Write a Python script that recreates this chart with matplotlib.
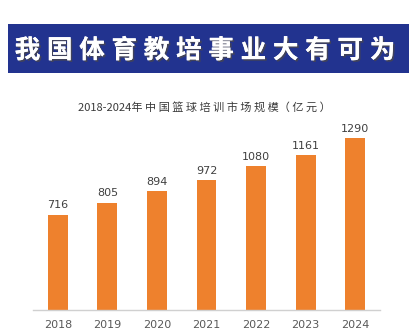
import matplotlib
matplotlib.use('Agg')
import matplotlib.pyplot as plt
import matplotlib.patheffects as pe
from matplotlib.patches import Rectangle

plt.rcParams['font.family'] = ['Noto Sans CJK SC', 'DejaVu Sans']

# DATA
years = ['2018', '2019', '2020', '2021', '2022', '2023', '2024']
values = [716, 805, 894, 972, 1080, 1161, 1290]
banner_text = '我国体育教培事业大有可为'
chart_title = '2018-2024年 中 国 篮 球 培 训 市 场 规 模（ 亿 元 ）'

W, H = 410, 332
BLUE = '#22338f'
ORANGE = '#ee812d'

fig = plt.figure(figsize=(W / 100, H / 100), dpi=100)
fig.patch.set_facecolor('white')

# banner
fig.patches.append(Rectangle((8 / W, 1 - 73 / H), 1 - 8 / W, 49 / H,
                             transform=fig.transFigure, facecolor=BLUE,
                             edgecolor='none', zorder=0))
char_w = 21
pitch = (393 - 17 - char_w) / (len(banner_text) - 1)
for i, ch in enumerate(banner_text):
    xc = 17 + char_w / 2 + pitch * i
    fig.text(xc / W, 1 - 50.5 / H, ch, ha='center', va='center',
             fontsize=18.5, fontweight='bold', color='white',
             path_effects=[pe.withSimplePatchShadow(offset=(1.2, -1.2),
                                                    shadow_rgbFace='#444455',
                                                    alpha=0.9),
                           pe.Normal()])

fig.text(204 / W, 1 - 107 / H, chart_title, ha='center', va='center',
         fontsize=8, color='#3a3a3a')

# axes
bottom = 310
top = 130
left, right = 33, 380
ax = fig.add_axes([left / W, 1 - bottom / H, (right - left) / W, (bottom - top) / H])
x = list(range(len(years)))
bars = ax.bar(x, values, width=0.404, color=ORANGE, zorder=2)
ax.set_xlim(-0.505, 6.505)
ax.set_ylim(0, 180 / (172 / 1290))

for xi, v in zip(x, values):
    ax.annotate(str(v), (xi, v), xytext=(0, 3), textcoords='offset points',
                ha='center', va='bottom', fontsize=8, color='#404040',
                family='DejaVu Sans')

ax.set_xticks(x)
ax.set_xticklabels(years, fontsize=8, color='#595959', family='DejaVu Sans')
ax.tick_params(axis='x', length=0, pad=7)
ax.set_yticks([])
for s in ['top', 'right', 'left']:
    ax.spines[s].set_visible(False)
ax.spines['bottom'].set_color('#d0d0d0')
ax.spines['bottom'].set_linewidth(1)
ax.set_facecolor('none')

fig.savefig('out.png', dpi=100)
